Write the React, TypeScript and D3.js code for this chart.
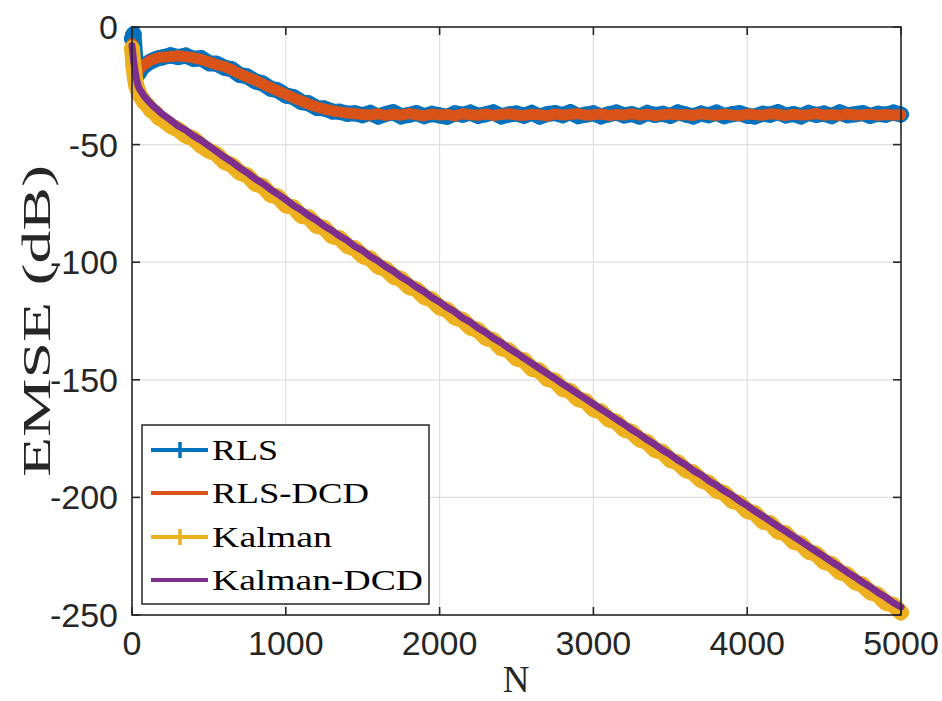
import React from "react";
import * as d3 from "d3";

const nAxis = [0, 10, 20, 30, 40, 50, 60, 80, 100, 125, 150, 175, 200,
  250, 300, 350, 400, 450,
  500, 550, 600, 650, 700, 750, 800, 850, 900, 950, 1000,
  1050, 1100, 1150, 1200, 1250, 1300, 1350, 1400, 1450, 1500,
  1550, 1600, 1650, 1700, 1750, 1800, 1850, 1900, 1950, 2000,
  2050, 2100, 2150, 2200, 2250, 2300, 2350, 2400, 2450, 2500,
  2550, 2600, 2650, 2700, 2750, 2800, 2850, 2900, 2950, 3000,
  3050, 3100, 3150, 3200, 3250, 3300, 3350, 3400, 3450, 3500,
  3550, 3600, 3650, 3700, 3750, 3800, 3850, 3900, 3950, 4000,
  4050, 4100, 4150, 4200, 4250, 4300, 4350, 4400, 4450, 4500,
  4550, 4600, 4650, 4700, 4750, 4800, 4850, 4900, 4950, 5000];

const rls = [-5, -3, -12, -17, -20, -19, -17.5, -16.5, -15.5, -14.5, -13.8, -13.2, -12.9,
  -12.0, -12.8, -12.1, -13.6, -13.2,
  -15.4, -15.6, -17.3, -18.0, -20.4, -21.0, -23.1, -24.0, -26.2, -27.0, -29.1,
  -29.8, -31.9, -32.5, -34.4, -34.6, -35.9, -36.0, -36.9, -36.7, -37.5,
  -36.5, -38.1, -37.0, -36.2, -38.0, -37.4, -36.6, -37.9, -36.9, -37.6,
  -38.2, -36.7, -37.3, -36.4, -37.8, -37.1, -36.3, -38.0, -37.2, -36.8,
  -37.7, -36.5, -38.1, -37.0, -36.6, -37.5, -36.2, -37.9, -37.3, -36.7,
  -38.0, -37.1, -36.4, -37.6, -37.0, -38.1, -36.5, -37.4, -36.9, -37.8,
  -36.3, -37.2, -38.0, -36.8, -37.5, -36.4, -37.9, -37.1, -36.6, -37.7,
  -38.1, -36.9, -37.3, -36.2, -37.6, -37.0, -38.0, -36.5, -37.4, -36.8,
  -37.9, -36.3, -37.5, -37.1, -36.6, -37.8, -36.9, -37.3, -36.4, -37.2];

const rlsDcd = [-7, -9, -15, -18, -19, -18, -17, -16, -15, -14, -13.5, -13, -12.8,
  -12.5, -12.2, -12.6, -13.1, -13.8,
  -14.9, -16.0, -16.8, -18.2, -19.9, -21.3, -22.6, -24.2, -25.7, -27.2, -28.6,
  -30.1, -31.4, -32.8, -33.9, -34.9, -35.6, -36.1, -36.6, -36.9, -37.2,
  -37.4, -36.9, -37.6, -37.1, -37.5, -36.8, -37.3, -37.7, -37.0, -37.4,
  -37.2, -37.8, -36.9, -37.3, -37.5, -37.0, -37.6, -37.2, -36.9, -37.4,
  -37.6, -37.1, -37.3, -37.8, -37.0, -37.4, -37.2, -36.8, -37.5, -37.3,
  -37.0, -37.6, -37.2, -37.4, -36.9, -37.5, -37.1, -37.7, -37.3, -37.0,
  -37.4, -37.2, -37.6, -36.9, -37.3, -37.5, -37.1, -37.4, -37.7, -37.0,
  -37.3, -37.5, -36.9, -37.2, -37.6, -37.1, -37.4, -37.3, -36.8, -37.5,
  -37.2, -37.6, -37.0, -37.4, -37.3, -37.1, -37.5, -37.2, -37.4, -37.3];

const kalman = [-9, -17, -22, -25.5, -27, -29, -29.8, -32, -33.2, -35.5, -36.4, -38.6, -39.4,
  -42.0, -43.6, -46.2, -47.5, -50.5,
  -52.6, -54.0, -57.3, -58.7, -61.9, -63.1, -66.6, -67.6, -71.3, -72.2, -75.8,
  -76.7, -80.2, -81.0, -84.5, -85.4, -88.9, -89.8, -93.1, -94.2, -97.4,
  -98.5, -101.8, -102.9, -106.1, -107.2, -110.5, -111.6, -114.8, -115.9, -119.2,
  -120.3, -123.5, -124.6, -127.8, -128.9, -132.2, -133.2, -136.5, -137.5, -140.9,
  -141.8, -145.3, -146.1, -149.6, -150.4, -153.9, -154.8, -158.2, -159.1, -162.5,
  -163.5, -166.8, -167.9, -171.1, -172.2, -175.4, -176.5, -179.8, -180.8, -184.1,
  -185.2, -188.4, -189.5, -192.7, -193.8, -197.1, -198.1, -201.4, -202.4, -205.8,
  -206.7, -210.2, -211.0, -214.5, -215.3, -218.8, -219.7, -223.1, -224.0, -227.4,
  -228.4, -231.7, -232.8, -236.0, -237.1, -240.3, -241.4, -244.7, -245.7, -248.9];

const kalmanDcd = [-8, -14, -19, -22.5, -25, -26.5, -27.5, -29.5, -31, -32.8, -34.3, -35.8, -37.2,
  -39.5, -42.1, -43.9, -46.3, -48.2,
  -50.6, -52.9, -55.3, -57.4, -59.9, -62.0, -64.5, -66.5, -69.0, -71.2, -73.4,
  -75.9, -77.8, -80.2, -82.1, -84.6, -86.5, -88.9, -90.8, -93.3, -95.1,
  -97.6, -99.5, -101.9, -103.8, -106.3, -108.2, -110.6, -112.5, -115.0, -116.9,
  -119.3, -121.2, -123.7, -125.5, -128.0, -129.9, -132.3, -134.2, -136.6, -138.6,
  -140.9, -143.0, -145.2, -147.4, -149.5, -151.7, -153.8, -156.0, -158.1, -160.3,
  -162.5, -164.6, -166.8, -168.9, -171.2, -173.2, -175.5, -177.5, -179.9, -181.8,
  -184.2, -186.1, -188.6, -190.4, -192.9, -194.8, -197.2, -199.1, -201.5, -203.5,
  -205.8, -207.9, -210.1, -212.3, -214.4, -216.6, -218.7, -220.9, -223.0, -225.2,
  -227.4, -229.5, -231.8, -233.8, -236.1, -238.1, -240.4, -242.4, -244.8, -246.6];

const xTicks = [0, 1000, 2000, 3000, 4000, 5000];
const yTicks = [0, -50, -100, -150, -200, -250];

const seriesNames = ["RLS", "RLS-DCD", "Kalman", "Kalman-DCD"];
const seriesColors = ["#0072BD", "#D95319", "#EDB120", "#7E2F8E"];
const seriesValues = [rls, rlsDcd, kalman, kalmanDcd];
const seriesMarkers = [true, false, true, false];
const seriesWidths = [16, 11, 16, 7];
const legendTextLengths = [66, 157, 120, 211];

export default function App() {
  const W = 942, H = 701;
  const left = 132, right = 901, top = 27, bottom = 615;
  const x = d3.scaleLinear().domain([0, 5000]).range([left, right]);
  const y = d3.scaleLinear().domain([-250, 0]).range([bottom, top]);
  const line = d3.line<number>().x((_, i) => x(nAxis[i])).y((d) => y(d));
  const axisColor = "#262626";
  const tickLen = 8;
  const sansFont = "'Liberation Sans', Arial, sans-serif";
  const serifFont = "'Liberation Serif', 'DejaVu Serif', serif";

  const legendY = [450, 493, 537, 580];

  return (
    <svg width={W} height={H} style={{ position: "absolute", left: 0, top: 0, background: "#fff" }}>
      <rect x={0} y={0} width={W} height={H} fill="#fff" />
      {xTicks.slice(1, -1).map((t) => (
        <line key={"gx" + t} x1={x(t)} x2={x(t)} y1={top} y2={bottom} stroke="#dfdfdf" strokeWidth={1.2} />
      ))}
      {yTicks.slice(1, -1).map((t) => (
        <line key={"gy" + t} x1={left} x2={right} y1={y(t)} y2={y(t)} stroke="#dfdfdf" strokeWidth={1.2} />
      ))}
      {seriesValues.map((vals, si) => (
        <g key={"s" + si}>
          <path d={line(vals) || ""} fill="none" stroke={seriesColors[si]} strokeWidth={seriesWidths[si]}
            strokeLinejoin="round" strokeLinecap="round" />
          {seriesMarkers[si] && vals.map((v, i) => (
            <path key={i} d={`M${x(nAxis[i]) - 8},${y(v)}h16M${x(nAxis[i])},${y(v) - 8}v16`}
              stroke={seriesColors[si]} strokeWidth={4} fill="none" />
          ))}
        </g>
      ))}
      <rect x={left} y={top} width={right - left} height={bottom - top} fill="none" stroke={axisColor} strokeWidth={1.6} />
      {xTicks.map((t) => (
        <g key={"xt" + t}>
          <line x1={x(t)} x2={x(t)} y1={bottom} y2={bottom - tickLen} stroke={axisColor} strokeWidth={1.6} />
          <line x1={x(t)} x2={x(t)} y1={top} y2={top + tickLen} stroke={axisColor} strokeWidth={1.6} />
          <text x={x(t)} y={655} textAnchor="middle" fontFamily={sansFont} fontSize={34} fill={axisColor}>{t}</text>
        </g>
      ))}
      {yTicks.map((t) => (
        <g key={"yt" + t}>
          <line x1={left} x2={left + tickLen} y1={y(t)} y2={y(t)} stroke={axisColor} strokeWidth={1.6} />
          <line x1={right} x2={right - tickLen} y1={y(t)} y2={y(t)} stroke={axisColor} strokeWidth={1.6} />
          <text x={118} y={y(t) + 12} textAnchor="end" fontFamily={sansFont} fontSize={34} fill={axisColor}>{t}</text>
        </g>
      ))}
      <text x={516} y={692} textAnchor="middle" fontFamily={serifFont} fontSize={37} fill={axisColor}>N</text>
      <text transform="translate(50,321) rotate(-90)" textAnchor="middle" fontFamily={serifFont} fontSize={39}
        fill={axisColor} textLength={312} lengthAdjust="spacingAndGlyphs">EMSE (dB)</text>
      <rect x={142} y={425} width={287} height={179} fill="#fff" stroke={axisColor} strokeWidth={1.5} />
      {seriesNames.map((name, si) => (
        <g key={"lg" + si}>
          <line x1={151} x2={208} y1={legendY[si]} y2={legendY[si]} stroke={seriesColors[si]} strokeWidth={4} />
          {seriesMarkers[si] && (
            <path d={`M${172},${legendY[si]}h16M${180},${legendY[si] - 8}v16`} stroke={seriesColors[si]} strokeWidth={3.5} />
          )}
          <text x={212} y={legendY[si] + 9.5} fontFamily={serifFont} fontSize={30} fill="#000"
            textLength={legendTextLengths[si]} lengthAdjust="spacingAndGlyphs">{name}</text>
        </g>
      ))}
    </svg>
  );
}
